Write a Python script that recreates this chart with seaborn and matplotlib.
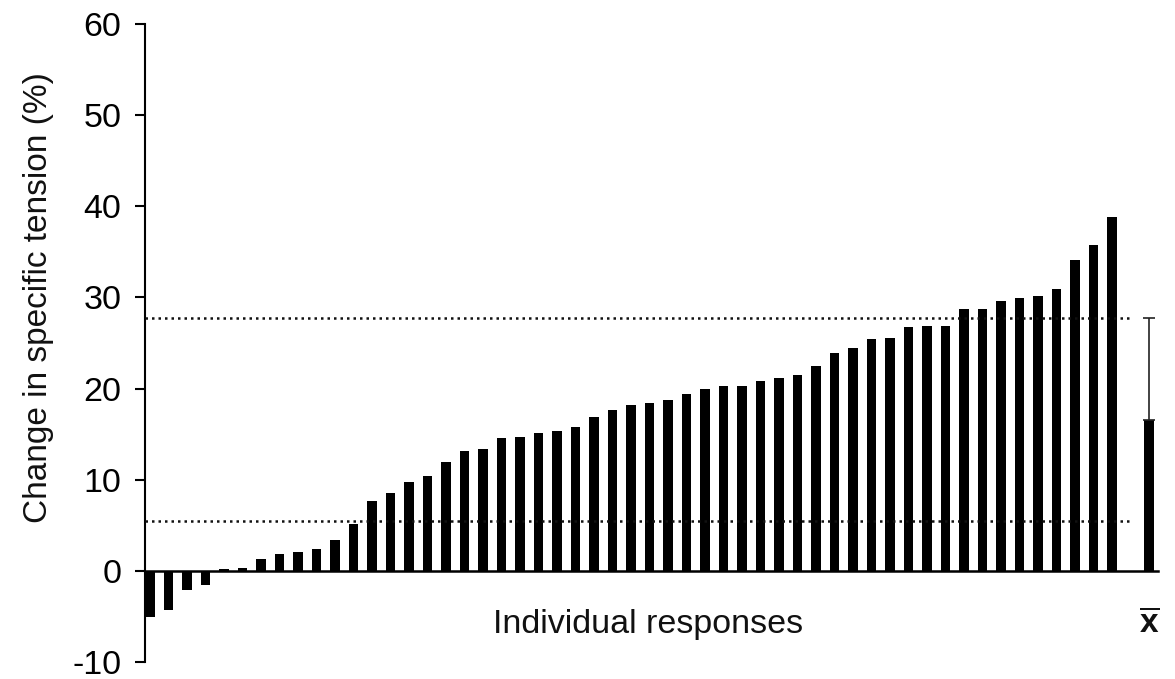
import numpy as np
import pandas as pd
import matplotlib
matplotlib.use("Agg")
import matplotlib.pyplot as plt
import seaborn as sns

# Percent change in specific tension for each participant, sorted ascending
changes = [-5.1, -4.3, -2.1, -1.6, 0.2, 0.3, 1.3, 1.8, 2.1, 2.4,
           3.4, 5.1, 7.7, 8.5, 9.7, 10.4, 12.0, 13.1, 13.4, 14.6,
           14.7, 15.1, 15.3, 15.8, 16.9, 17.7, 18.2, 18.4, 18.7, 19.4,
           20.0, 20.3, 20.3, 20.8, 21.2, 21.5, 22.5, 23.9, 24.4, 25.4,
           25.6, 26.8, 26.9, 26.9, 28.7, 28.7, 29.6, 29.9, 30.2, 30.9,
           34.1, 35.8, 38.8]
# Group summary: mean and standard deviation
group_mean = 16.6
group_sd = 11.1

y_ticks = [-10, 0, 10, 20, 30, 40, 50, 60]
y_label = "Change in specific tension (%)"
x_label = "Individual responses"
mean_label = r"$\overline{\mathbf{x}}$"

sns.set_style("ticks")
plt.rcParams["font.family"] = ["Liberation Sans", "DejaVu Sans"]
plt.rcParams["mathtext.fontset"] = "custom"
plt.rcParams["mathtext.rm"] = "Liberation Sans"
plt.rcParams["mathtext.bf"] = "Liberation Sans:bold"

n = len(changes)
positions = list(range(n)) + [n + 1]
df = pd.DataFrame({"position": positions, "change": changes + [group_mean]})

fig = plt.figure(figsize=(11.75, 6.79), dpi=100)
ax = fig.add_axes([0.1234, 0.0250, 0.8621, 0.9396])

sns.barplot(data=df, x="position", y="change", native_scale=True,
            width=0.5, color="black", saturation=1, edgecolor="none",
            linewidth=0, errorbar=None, ax=ax)

# Upper SD whisker on the mean bar
ax.errorbar(n + 1, group_mean, yerr=[[0], [group_sd]], fmt="none",
            ecolor="#222222", elinewidth=1.2, capsize=4, capthick=1.2)

# Dotted reference lines at mean +/- SD
ax.hlines([group_mean + group_sd, group_mean - group_sd],
          xmin=-0.27, xmax=n, colors="#111111",
          linestyles=(0, (1, 1.6)), linewidth=1.8, zorder=3)

ax.set_xlim(-0.27, n + 1.49)
ax.set_ylim(-10, 60)
ax.set_yticks(y_ticks)
ax.set_yticklabels([str(t) for t in y_ticks])
ax.set_xticks([])
ax.set_xlabel("")

sns.despine(ax=ax, top=True, right=True)
ax.spines["bottom"].set_position(("data", 0))
ax.spines["bottom"].set_linewidth(1.8)
ax.spines["left"].set_linewidth(1.5)
ax.spines["bottom"].set_color("black")
ax.spines["left"].set_color("black")
ax.tick_params(axis="y", direction="out", length=7, width=1.5,
               labelsize=24.5, pad=10, colors="black")

ax.set_ylabel(y_label, fontsize=24, va="center", color="#111111")
ax.yaxis.set_label_coords(-0.1056, 0.572)

ax.text((n - 1) / 2 + 0.9, -5.9, x_label, ha="center", va="center",
        fontsize=24.5, color="#111111")
ax.text(n + 1, -5.8, mean_label, ha="center", va="center",
        fontsize=24, color="#111111")

fig.savefig("out.png", dpi=100, facecolor="white")
